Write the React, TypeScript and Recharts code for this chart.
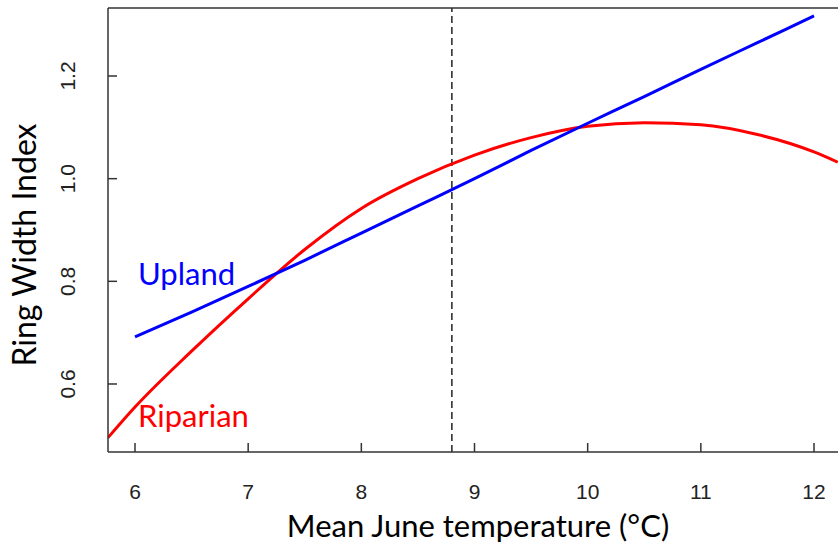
import React from "react";
import { LineChart, Line, XAxis, YAxis, ReferenceLine } from "recharts";

// mean June temperature (°C) vs ring width index
const uplandTemp = [6, 6.5, 7, 7.5, 8, 8.5, 9, 9.5, 10, 10.5, 11, 11.5, 12];
const uplandRwi = [0.692, 0.74, 0.79, 0.841, 0.894, 0.947, 1.0, 1.055, 1.108, 1.16, 1.213, 1.265, 1.317];

const riparianTemp = [5.76, 6, 6.5, 7, 7.5, 8, 8.5, 9, 9.5, 10, 10.5, 11, 11.5, 12, 12.21];
const riparianRwi = [0.495, 0.555, 0.664, 0.766, 0.862, 0.942, 1.0, 1.046, 1.08, 1.102, 1.109, 1.105, 1.086, 1.052, 1.032];

const xTicks = [6, 7, 8, 9, 10, 11, 12];
const yTicks = [0.6, 0.8, 1.0, 1.2];
const meanTemp = 8.8;

const upland = uplandTemp.map((t, i) => ({ temp: t, rwi: uplandRwi[i] }));
const riparian = riparianTemp.map((t, i) => ({ temp: t, rwi: riparianRwi[i] }));

const AXIS = "#333";
const TICK_FONT = "'Liberation Sans', Arial, sans-serif";
const TITLE_FONT = "Lato, 'Open Sans', sans-serif";

const XTick = (props: any) => {
  const { x, y, payload } = props;
  return (
    <text x={x} y={y} textAnchor="middle" fontSize={21} fontFamily={TICK_FONT} fill="#222">
      {payload.value}
    </text>
  );
};

const YTick = (props: any) => {
  const { x, y, payload } = props;
  return (
    <text
      x={x}
      y={y}
      textAnchor="middle"
      fontSize={21}
      fontFamily={TICK_FONT}
      fill="#222"
      transform={`rotate(-90, ${x}, ${y})`}
    >
      {Number(payload.value).toFixed(1)}
    </text>
  );
};

export default function App() {
  return (
    <div style={{ position: "absolute", left: 0, top: 0, width: 838, height: 544, background: "#fff" }}>
      <LineChart width={838} height={544} margin={{ top: 7, right: 0, bottom: 91, left: 107 }}>
        <XAxis
          xAxisId="b"
          type="number"
          dataKey="temp"
          domain={[5.7614, 12.212]}
          allowDataOverflow
          ticks={xTicks}
          tick={<XTick />}
          tickSize={-9}
          tickMargin={56}
          height={1}
          axisLine={{ stroke: AXIS, strokeWidth: 1.5 }}
          tickLine={{ stroke: AXIS, strokeWidth: 1.5 }}
        />
        <XAxis
          xAxisId="t"
          orientation="top"
          type="number"
          domain={[5.7614, 12.212]}
          allowDataOverflow
          tick={false}
          tickLine={false}
          height={1}
          axisLine={{ stroke: AXIS, strokeWidth: 1.5 }}
        />
        <YAxis
          type="number"
          domain={[0.4675, 1.3325]}
          allowDataOverflow
          ticks={yTicks}
          tick={<YTick />}
          tickSize={-9}
          tickMargin={42}
          width={1}
          axisLine={{ stroke: AXIS, strokeWidth: 1.5 }}
          tickLine={{ stroke: AXIS, strokeWidth: 1.5 }}
        />
        <ReferenceLine xAxisId="b" x={meanTemp} stroke="#222" strokeWidth={1.5} strokeDasharray="7 4" />
        <Line
          xAxisId="b"
          data={riparian}
          dataKey="rwi"
          type="monotone"
          stroke="#ff0000"
          strokeWidth={3}
          dot={false}
          isAnimationActive={false}
        />
        <Line
          xAxisId="b"
          data={upland}
          dataKey="rwi"
          type="monotone"
          stroke="#0000ff"
          strokeWidth={3}
          dot={false}
          isAnimationActive={false}
        />
        <text x={138} y={285} fontSize={31} fontFamily={TITLE_FONT} fill="#0000ff">
          Upland
        </text>
        <text x={138} y={427} fontSize={31} fontFamily={TITLE_FONT} fill="#ff0000">
          Riparian
        </text>
        <text x={478} y={537} textAnchor="middle" fontSize={31} fontFamily={TITLE_FONT} fill="#000">
          Mean June temperature (°C)
        </text>
        <text
          x={36}
          y={245}
          textAnchor="middle"
          fontSize={32}
          fontFamily={TITLE_FONT}
          fill="#000"
          transform="rotate(-90, 36, 245)"
        >
          Ring Width Index
        </text>
      </LineChart>
    </div>
  );
}
